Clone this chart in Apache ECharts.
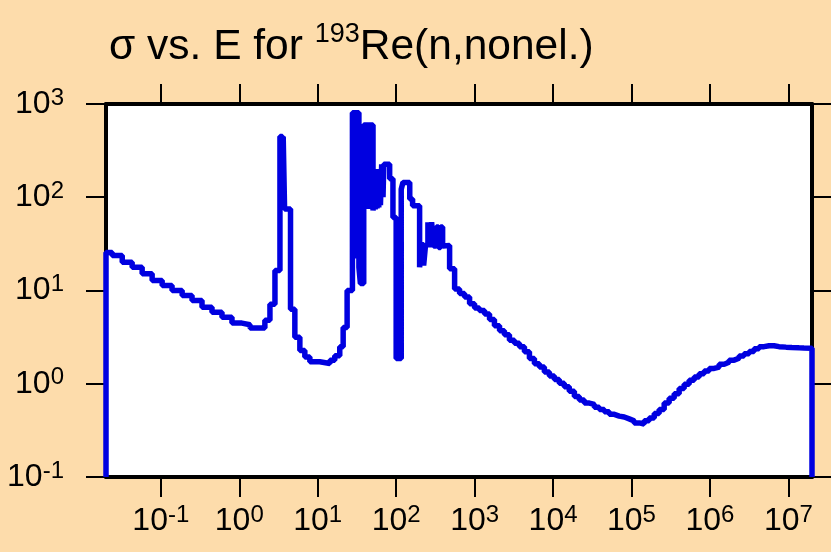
<!DOCTYPE html>
<html><head><meta charset="utf-8">
<script src="https://cdn.jsdelivr.net/npm/echarts@6/dist/echarts.min.js"></script>
<style>html,body{margin:0;padding:0;background:#fddcab;}#c{width:831px;height:552px;}</style>
</head><body><div id="c"></div>
<script>
// Energy (eV) at the start of each histogram step
const energy = [
  0.02, 0.02, 0.024, 0.0322, 0.0431, 0.0578, 0.0775, 0.104, 0.139, 0.187,
  0.25, 0.335, 0.449, 0.602, 0.807, 1.08, 1.37, 2.12, 2.46, 2.85,
  3.30, 3.55, 3.63, 3.78, 4.5, 5.11, 5.92, 6.85, 7.94, 10.6,
  14.3, 16.5, 19.1, 21.1, 23.7, 27.7, 30.3, 30.9, 33.5, 35.0,
  38.6, 43.5, 44.5, 50.7, 52.5, 54.0, 55.5, 57.0, 58.5, 60.0,
  61.5, 63.0, 65.4, 68.0, 69.5, 82.6, 91.0, 100, 116, 122,
  149, 162, 199, 211, 224, 237, 254, 267, 283, 300,
  325, 347, 368, 391, 414, 480, 556, 643, 745, 863,
  1000, 1150, 1340, 1550, 1790, 2080, 2400, 2780, 3220, 3730,
  4320, 5000, 5790, 6700, 7750, 8980, 10400, 12000, 13900, 16100,
  18700, 21600, 25000, 29000, 33600, 38900, 45000, 52100, 60400, 69800,
  80900, 93500, 108000, 126000, 145000, 168000, 195000, 225000, 261000, 302000,
  350000, 405000, 469000, 543000, 629000, 728000, 843000, 977000, 1130000, 1310000,
  1520000, 1750000, 2030000, 2350000, 2720000, 3160000, 3650000, 4230000, 4900000, 5670000,
  6560000, 7600000, 9330000, 11100000, 13700000, 15800000, 20000000
];
// Cross section (b) for each step
const sigma = [
  0.1, 25.5, 23.7, 20.1, 17.8, 15.1, 12.8, 11.3, 10.0, 8.85,
  7.82, 6.63, 5.86, 5.18, 4.47, 4.3, 3.95, 4.8, 7.1, 16.4,
  447, 90, 447, 75, 6.3, 3.16, 2.27, 1.94, 1.72, 1.65,
  1.79, 2.0, 2.5, 4.0, 10, 807, 22, 807, 17.8, 11.9,
  595, 75, 595, 72, 200, 74, 195, 76, 200, 78,
  190, 82, 226, 100, 226, 158, 60.8, 1.87, 122, 144,
  96, 81, 17.8, 31, 18.5, 31, 54, 29, 54, 30,
  48, 29, 48, 30, 30.4, 17.1, 10.4, 9.3, 8.5, 7.2,
  6.5, 6.1, 5.6, 4.9, 4.2, 3.7, 3.35, 2.93, 2.72, 2.5,
  2.2, 1.87, 1.64, 1.51, 1.34, 1.21, 1.11, 1.01, 0.93, 0.83,
  0.73, 0.67, 0.62, 0.60, 0.56, 0.53, 0.50, 0.47, 0.45, 0.44,
  0.42, 0.40, 0.38, 0.37, 0.40, 0.43, 0.48, 0.53, 0.62, 0.70,
  0.78, 0.89, 0.99, 1.09, 1.18, 1.28, 1.37, 1.46, 1.51, 1.62,
  1.70, 1.79, 1.88, 1.98, 2.10, 2.22, 2.37, 2.50, 2.56, 2.56,
  2.50, 2.47, 2.45, 2.43, 2.42, 2.41, 0.1
];
const xTicks = [0.1, 1, 10, 100, 1e3, 1e4, 1e5, 1e6, 1e7];
const yTicks = [0.1, 1, 10, 100, 1000];
const titleMain = 'σ vs. E for ';
const titleSup = '193';
const titleTail = 'Re(n,nonel.)';

const FONT = "'Liberation Sans', Arial, Helvetica, sans-serif";
function fmt(v) {
  const e = Math.round(Math.log10(v));
  return '{n|10}{sup|' + e + '}';
}
const labelRich = {
  n: {fontSize: 32, lineHeight: 36, fontFamily: FONT, color: '#000'},
  sup: {fontSize: 24, lineHeight: 20, verticalAlign: 'top', fontFamily: FONT, color: '#000'}
};
const axisLine = {show: true, onZero: false, lineStyle: {color: '#000', width: 4}};

const chart = echarts.init(document.getElementById('c'), null, {renderer: 'canvas'});
chart.setOption({
  animation: false,
  backgroundColor: '#fddcab',
  title: {
    text: '{m|' + titleMain + '}{s|' + titleSup + '}{m|' + titleTail + '}',
    left: 109, top: 21, padding: 0,
    textStyle: {
      fontFamily: FONT, color: '#000', fontWeight: 'normal',
      rich: {
        m: {fontSize: 42.5, lineHeight: 52, fontFamily: FONT, color: '#000'},
        s: {fontSize: 27, lineHeight: 17, verticalAlign: 'top', fontFamily: FONT, color: '#000'}
      }
    }
  },
  grid: {left: 106, right: 19, top: 104, bottom: 75, show: true, backgroundColor: '#ffffff', borderWidth: 0},
  xAxis: [{
    type: 'log', logBase: 10, min: 0.02, max: 2e7, position: 'bottom',
    axisLine: axisLine,
    axisTick: {show: true, length: 20, customValues: xTicks, lineStyle: {color: '#000', width: 2}},
    axisLabel: {show: true, margin: 26, customValues: xTicks, formatter: fmt, rich: labelRich},
    splitLine: {show: false}, minorTick: {show: false}
  }, {
    type: 'log', logBase: 10, min: 0.02, max: 2e7, position: 'top',
    axisLine: axisLine,
    axisTick: {show: true, length: 20, customValues: xTicks, lineStyle: {color: '#000', width: 2}},
    axisLabel: {show: false},
    splitLine: {show: false}
  }],
  yAxis: [{
    type: 'log', logBase: 10, min: 0.1, max: 1000, position: 'left',
    axisLine: axisLine,
    axisTick: {show: true, length: 20, customValues: yTicks, lineStyle: {color: '#000', width: 2}},
    axisLabel: {show: true, margin: 42, customValues: yTicks, formatter: fmt, rich: labelRich},
    splitLine: {show: false}, minorTick: {show: false}
  }, {
    type: 'log', logBase: 10, min: 0.1, max: 1000, position: 'right',
    axisLine: axisLine,
    axisTick: {show: true, length: 20, customValues: yTicks, lineStyle: {color: '#000', width: 2}},
    axisLabel: {show: false},
    splitLine: {show: false}
  }],
  series: [{
    type: 'line', xAxisIndex: 0, yAxisIndex: 0,
    data: energy.map((e, i) => [e, sigma[i]]),
    step: 'end', symbol: 'none', showSymbol: false,
    lineStyle: {width: 5.5, color: '#0000e0'},
    clip: true, z: 3
  }]
});
</script>
</body></html>
